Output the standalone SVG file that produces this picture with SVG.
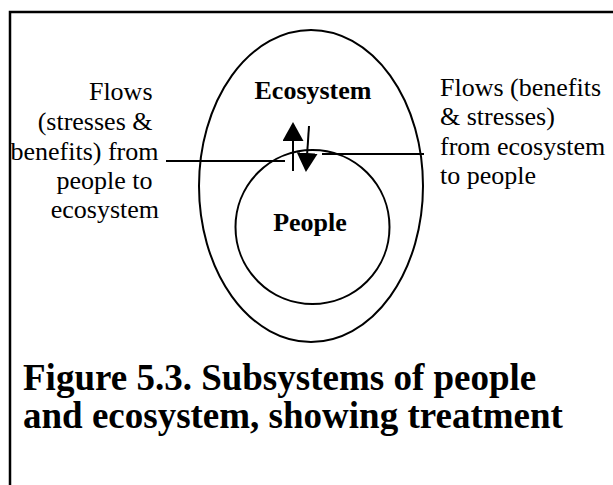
<svg xmlns="http://www.w3.org/2000/svg" width="613" height="485" viewBox="0 0 613 485">
<style>
  .shape { fill: none; stroke: #000; stroke-width: 2; }
  .conn { fill: none; stroke: #000; stroke-width: 2; }
  .lbl { font-family: "Liberation Serif", "Times New Roman", serif; font-size: 26px; fill: #000; }
  .bold { font-weight: bold; }
  .cap { font-family: "Liberation Serif", "Times New Roman", serif; font-size: 37px; font-weight: bold; fill: #000; }
</style>
<defs>
  <marker id="head" markerUnits="userSpaceOnUse" markerWidth="20" markerHeight="22" refX="0" refY="10.5" orient="auto" viewBox="0 0 20 22">
    <path d="M0,0 L19,10.5 L0,21 Z" fill="#000"/>
  </marker>
  <clipPath id="capclip"><rect x="0" y="0" width="613" height="440"/></clipPath>
</defs>
<rect width="613" height="485" fill="#fff"/>
<g id="frame">
  <path d="M10,485 V12 H613" fill="none" stroke="#000" stroke-width="2.5"/>
</g>
<g id="ecosystem">
  <ellipse class="shape" cx="311" cy="186" rx="112" ry="156"/>
  <text class="lbl bold" x="313" y="99" text-anchor="middle">Ecosystem</text>
</g>
<g id="people">
  <circle class="shape" cx="312.5" cy="227" r="77"/>
  <text class="lbl bold" x="310" y="231" text-anchor="middle">People</text>
</g>
<g id="label-left">
  <text class="lbl" text-anchor="end">
    <tspan x="159" y="100">Flows</tspan>
    <tspan x="159" y="130">(stresses &amp;</tspan>
    <tspan x="165" y="160">benefits) from</tspan>
    <tspan x="159" y="189">people to</tspan>
    <tspan x="159" y="218">ecosystem</tspan>
  </text>
</g>
<g id="label-right">
  <text class="lbl">
    <tspan x="440" y="96">Flows (benefits</tspan>
    <tspan x="440" y="125">&amp; stresses)</tspan>
    <tspan x="440" y="155">from ecosystem</tspan>
    <tspan x="440" y="184">to people</tspan>
  </text>
</g>
<g id="connectors">
  <line class="conn" x1="166" y1="161" x2="285" y2="161"/>
  <line class="conn" x1="322" y1="154" x2="424" y2="154"/>
  <line class="conn" x1="293" y1="171" x2="293" y2="141" marker-end="url(#head)"/>
  <line class="conn" x1="309" y1="126" x2="307.2" y2="153" marker-end="url(#head)"/>
</g>
<g id="caption" clip-path="url(#capclip)">
  <text class="cap" x="23" y="390">Figure 5.3. Subsystems of people</text>
  <text class="cap" x="23" y="428">and ecosystem, showing treatment</text>
</g>
</svg>
